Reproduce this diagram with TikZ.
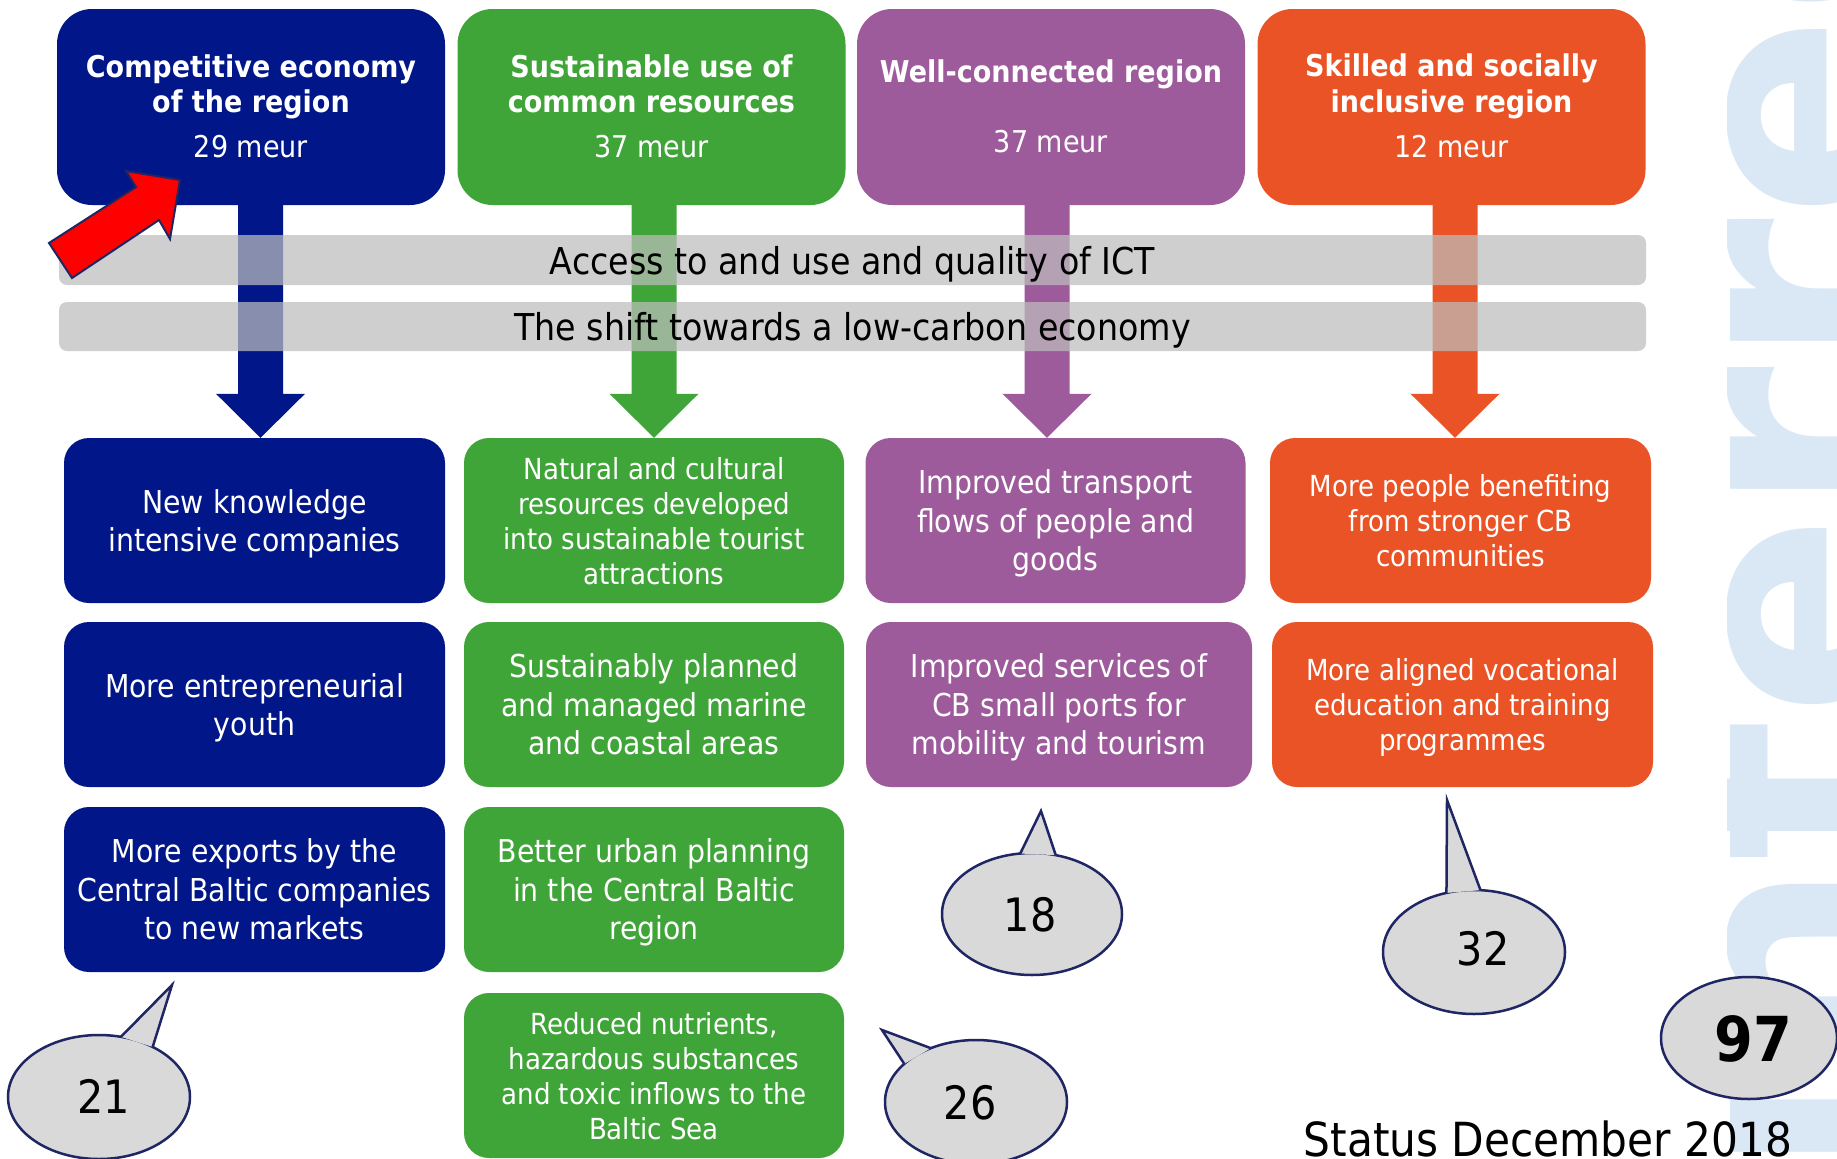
\documentclass[tikz,border=0pt]{standalone}
\usepackage{fontspec}
\setmainfont{DejaVu Sans}[FakeStretch=0.9]
\newfontfamily\wmfont{DejaVu Sans}
\usetikzlibrary{shapes.geometric,calc}
\pgfdeclarelayer{bg}
\pgfsetlayers{bg,main}

\definecolor{cblue}{RGB}{0,22,137}
\definecolor{cgreen}{RGB}{63,165,56}
\definecolor{cpurple}{RGB}{157,91,156}
\definecolor{corange}{RGB}{233,83,37}
\definecolor{bandgray}{RGB}{189,189,189}
\definecolor{callfill}{RGB}{217,217,217}
\definecolor{callline}{RGB}{31,38,99}
\definecolor{wmblue}{RGB}{218,232,246}
\definecolor{arrowred}{RGB}{255,0,0}

\tikzset{
  topbox/.style={rounded corners=35pt, minimum width=388pt, minimum height=196pt, inner sep=0pt, draw=none},
  lowbox/.style={rounded corners=25pt, minimum width=381pt, minimum height=165pt, inner sep=0pt, align=center, text=white},
  bigtxt/.style={font=\fontsize{31.5}{38.5}\selectfont, text depth=-4pt},
  smalltxt/.style={font=\fontsize{29}{35}\selectfont, text depth=0pt},
  titletxt/.style={text=white, font=\fontsize{30}{35}\selectfont\bfseries, anchor=base, inner sep=0pt},
  meurtxt/.style={text=white, font=\fontsize{30}{35}\selectfont, anchor=base, inner sep=0pt},
  band/.style={rounded corners=8pt, minimum width=1587pt, inner sep=0pt, fill=bandgray, fill opacity=0.72, text opacity=1, text=black, font=\fontsize{37}{40}\selectfont, text depth=0pt},
  callout/.style={ellipse, fill=callfill, draw=callline, line width=2.5pt, inner sep=0pt, outer sep=0pt},
  numtxt/.style={inner sep=0pt, font=\fontsize{46}{50}\selectfont},
  tail/.style={fill=callfill},
  tailedge/.style={draw=callline, line width=2.5pt, line join=miter},
  redarrow/.style={fill=arrowred, draw=callline, line width=2pt, line join=miter},
}

% block arrow from a start coordinate down to a tip coordinate
\newcommand\blockdown[3]{%
  \fill[#3] ($(#1)+(-22.5,0)$) -- ($(#1)+(22.5,0)$) -- ($(#2)+(22.5,-44)$) -- ($(#2)+(44.5,-44)$)
    -- (#2) -- ($(#2)+(-44.5,-44)$) -- ($(#2)+(-22.5,-44)$) -- cycle;}

\begin{document}
\begin{tikzpicture}[x=1pt, y=-1pt]
\useasboundingbox (0,0) rectangle (1837,1159);

% ---------- top boxes ----------
\node[topbox, fill=cblue]   (t1) at (251,107) {};
\node[topbox, fill=cgreen]  (t2) at (651.5,107) {};
\node[topbox, fill=cpurple] (t3) at (1051,107) {};
\node[topbox, fill=corange] (t4) at (1451.5,107) {};

\node[titletxt] (t1a) at (251,77)  {Competitive economy};
\node[titletxt] (t1b) at (251,112) {of the region};
\node[meurtxt]  (t1c) at (251,157) {29 meur};
\node[titletxt] (t2a) at (651.5,77)  {Sustainable use of};
\node[titletxt] (t2b) at (651.5,112) {common resources};
\node[meurtxt]  (t2c) at (651.5,157) {37 meur};
\node[titletxt] (t3a) at (1051,82)  {Well-connected region};
\node[meurtxt]  (t3c) at (1051,152) {37 meur};
\node[titletxt] (t4a) at (1451.5,76)  {Skilled and socially};
\node[titletxt] (t4b) at (1451.5,112) {inclusive region};
\node[meurtxt]  (t4c) at (1451.5,157) {12 meur};

% ---------- lower boxes ----------
\node[lowbox, bigtxt, fill=cblue] (b11) at (254.5,520.5) {New knowledge\\intensive companies};
\node[lowbox, bigtxt, fill=cblue] (b21) at (254.5,704.5) {More entrepreneurial\\youth};
\node[lowbox, bigtxt, fill=cblue] (b31) at (254.5,889.5) {More exports by the\\Central Baltic companies\\to new markets};

\node[lowbox, smalltxt, fill=cgreen, minimum width=380pt] (b12) at (654,520.5) {Natural and cultural\\resources developed\\into sustainable tourist\\attractions};
\node[lowbox, bigtxt, fill=cgreen, minimum width=380pt] (b22) at (654,704.5) {Sustainably planned\\and managed marine\\and coastal areas};
\node[lowbox, bigtxt, fill=cgreen, minimum width=380pt] (b32) at (654,889.5) {Better urban planning\\in the Central Baltic\\region};
\node[lowbox, smalltxt, fill=cgreen, minimum width=380pt] (b42) at (654,1075.5) {Reduced nutrients,\\hazardous substances\\and toxic inflows to the\\Baltic Sea};

\node[lowbox, bigtxt, fill=cpurple, minimum width=380pt] (b13) at (1055.5,520.5) {Improved transport\\flows of people and\\goods};
\node[lowbox, bigtxt, fill=cpurple, minimum width=386pt] (b23) at (1059,704.5) {Improved services of\\CB small ports for\\mobility and tourism};

\node[lowbox, smalltxt, fill=corange] (b14) at (1460.5,520.5) {More people benefiting\\from stronger CB\\communities};
\node[lowbox, smalltxt, fill=corange] (b24) at (1462.5,704.5) {More aligned vocational\\education and training\\programmes};

% ---------- background: watermark and block arrows ----------
\begin{pgfonlayer}{bg}
  \fill[white] (0,0) rectangle (1837,1159);
  \begin{scope}
    \clip (1727,0) rectangle (1837,1159);
    \node[rotate=90, anchor=base east, inner sep=0pt, text=wmblue,
          font=\wmfont\bfseries\fontsize{300}{300}\selectfont] (wm) at (1894,-200) {interreg};
  \end{scope}
  \coordinate (a1s) at ($(t1.south)+(9.5,-15)$);   \coordinate (a1e) at ($(b11.north)+(6,0)$);
  \coordinate (a2s) at ($(t2.south)+(2.5,-15)$);   \coordinate (a2e) at ($(b12.north)+(0,0)$);
  \coordinate (a3s) at ($(t3.south)+(-4,-15)$);    \coordinate (a3e) at ($(b13.north)+(-8.5,0)$);
  \coordinate (a4s) at ($(t4.south)+(3.5,-15)$);   \coordinate (a4e) at ($(b14.north)+(-5.5,0)$);
  \blockdown{a1s}{a1e}{cblue}
  \blockdown{a2s}{a2e}{cgreen}
  \blockdown{a3s}{a3e}{cpurple}
  \blockdown{a4s}{a4e}{corange}
\end{pgfonlayer}

% ---------- horizontal bands ----------
\node[band, minimum height=50pt] (ict) at (852.5,260) {Access to and use and quality of ICT};
\node[band, minimum height=49pt] (lowc) at (852.5,326.5) {The shift towards a low-carbon economy};

% ---------- red arrow ----------
\filldraw[redarrow] (180,180) -- (126,171) -- (136,187) -- (49,243) -- (72,278) -- (159,220) -- (170,239) -- cycle;

% ---------- callouts ----------
\node[callout, minimum width=182pt, minimum height=124pt] (c21) at (99,1097) {};
\coordinate (c21tip) at (172,985);
\fill[tail] (c21.70.7) -- (c21tip) -- (c21.43.3) -- cycle;
\draw[tailedge] (c21.70.7) -- (c21tip) -- (c21.43.3);
\node[numtxt] (n21) at (104,1096) {21};

\node[callout, minimum width=180pt, minimum height=122pt] (c18) at (1032,914) {};
\coordinate (c18tip) at (1041,811);
\fill[tail] (c18.101.3) -- (c18tip) -- (c18.68.4) -- cycle;
\draw[tailedge] (c18.101.3) -- (c18tip) -- (c18.68.4);
\node[numtxt] (n18) at (1030,915) {18};

\node[callout, minimum width=182pt, minimum height=124pt] (c26) at (976,1102) {};
\coordinate (c26tip) at (882,1030);
\fill[tail] (c26.130.4) -- (c26tip) -- (c26.152.8) -- cycle;
\draw[tailedge] (c26.130.4) -- (c26tip) -- (c26.152.8);
\node[numtxt] (n26) at (970,1102.5) {26};

\node[callout, minimum width=182pt, minimum height=124pt] (c32) at (1474,952) {};
\coordinate (c32tip) at (1447,800);
\fill[tail] (c32.115) -- (c32tip) -- (c32.84.5) -- cycle;
\draw[tailedge] (c32.115) -- (c32tip) -- (c32.84.5);
\node[numtxt] (n32) at (1483,949) {32};

\node[callout, minimum width=176pt, minimum height=122pt] (c97) at (1749,1038) {};
\node[inner sep=0pt, font=\fontsize{62}{62}\selectfont\bfseries] (n97) at (1753,1039) {97};

% ---------- status ----------
\node[anchor=base, inner sep=0pt, font=\fontsize{47}{50}\selectfont] (status) at (1548,1156) {Status December 2018};
\end{tikzpicture}
\end{document}
